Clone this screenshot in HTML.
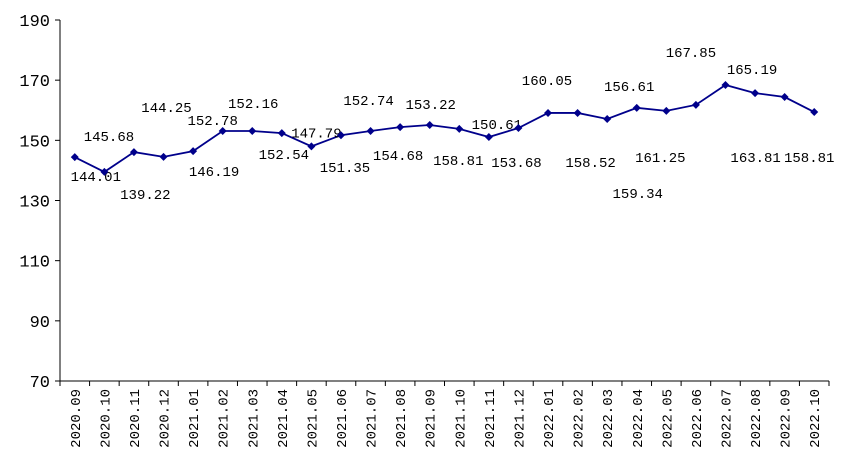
<!DOCTYPE html>
<html><head><meta charset="utf-8"><style>
body{margin:0;background:#fff;}
svg{display:block;font-family:"Liberation Mono","Noto Serif CJK SC",monospace;}
</style></head><body>
<svg id="chart" width="852" height="475" viewBox="0 0 852 475" xmlns="http://www.w3.org/2000/svg"></svg>
<script>
const categories=["2020.09","2020.10","2020.11","2020.12","2021.01","2021.02","2021.03","2021.04","2021.05","2021.06","2021.07","2021.08","2021.09","2021.10","2021.11","2021.12","2022.01","2022.02","2022.03","2022.04","2022.05","2022.06","2022.07","2022.08","2022.09","2022.10"];
const values=[144.4,139.5,146.1,144.5,146.4,153.1,153.1,152.4,148.0,151.7,153.1,154.4,155.1,153.8,151.1,154.1,159.1,159.1,157.1,160.8,159.8,161.8,168.4,165.7,164.4,159.4];
const labelTexts=["144.01","139.22","145.68","144.25","146.19","152.78","152.16","152.54","147.79","151.35","152.74","154.68","153.22","158.81","150.61","153.68","160.05","158.52","156.61","159.34","161.25","167.85","","165.19","163.81","158.81"];
const yTicks=[70,90,110,130,150,170,190];
const labelOffsets=[[21,19],[41,22],[-25,-16],[3,-50],[21,20],[-10,-11],[1,-28],[2,21],[5,-14],[4,32],[-2,-31],[-2,28],[1,-21],[-1,31],[8,-13],[-2,34],[-1,-33],[13,49],[22,-33],[1,85],[-6,46],[-5,-53],[0,0],[-3,-24],[-29,60],[-5,45]];
const svg=document.getElementById('chart');
const NS="http://www.w3.org/2000/svg";
const L=60,R=829,T=20,B=381,ymin=70,ymax=190;
const band=(R-L)/categories.length;
const xs=i=>L+band*(i+0.5);
const ys=v=>B-(v-ymin)/(ymax-ymin)*(B-T);
function mk(tag,attrs,parent){const e=document.createElementNS(NS,tag);for(const k in attrs)e.setAttribute(k,attrs[k]);(parent||svg).appendChild(e);return e;}
let ya=mk('line',{x1:L,y1:T,x2:L,y2:B,stroke:'#000','stroke-width':1});


let xa=mk('line',{x1:L,y1:B,x2:R,y2:B,stroke:'#000','stroke-width':1});


yTicks.forEach(t=>{
  const y=ys(t);
  const tk=mk('line',{x1:L-5,y1:y,x2:L,y2:y,stroke:'#000'});
  
  
  const tx=mk('text',{x:L-10,y:y+6,'text-anchor':'end','font-size':17,fill:'#000'});
  tx.textContent=t;
  
  
});
for(let i=0;i<=categories.length;i++){
  const x=L+band*i;
  const tk=mk('line',{x1:x,y1:B,x2:x,y2:B+5,stroke:'#000'});
  
  
}
categories.forEach((c,i)=>{
  const x=xs(i)+5;
  const tx=mk('text',{x:0,y:0,transform:`translate(${x},${B+8}) rotate(-90)`,'text-anchor':'end','font-size':14,fill:'#000'});
  tx.textContent=c;
  
  
});
const pts=values.map((v,i)=>xs(i)+','+ys(v)).join(' ');
const line=mk('polyline',{points:pts,fill:'none',stroke:'#00008B','stroke-width':1.8});


values.forEach((v,i)=>{
  const x=xs(i),y=ys(v);
  const m=mk('polygon',{points:`${x},${y-4} ${x+4},${y} ${x},${y+4} ${x-4},${y}`,fill:'#00008B'});
  
  
  if(labelTexts[i]){
    const o=labelOffsets[i];
    const t=mk('text',{x:x+o[0],y:y+o[1]+5,'text-anchor':'middle','font-size':14,fill:'#000'});
    t.textContent=labelTexts[i];
    
    
  }
});
</script>
</body></html>
